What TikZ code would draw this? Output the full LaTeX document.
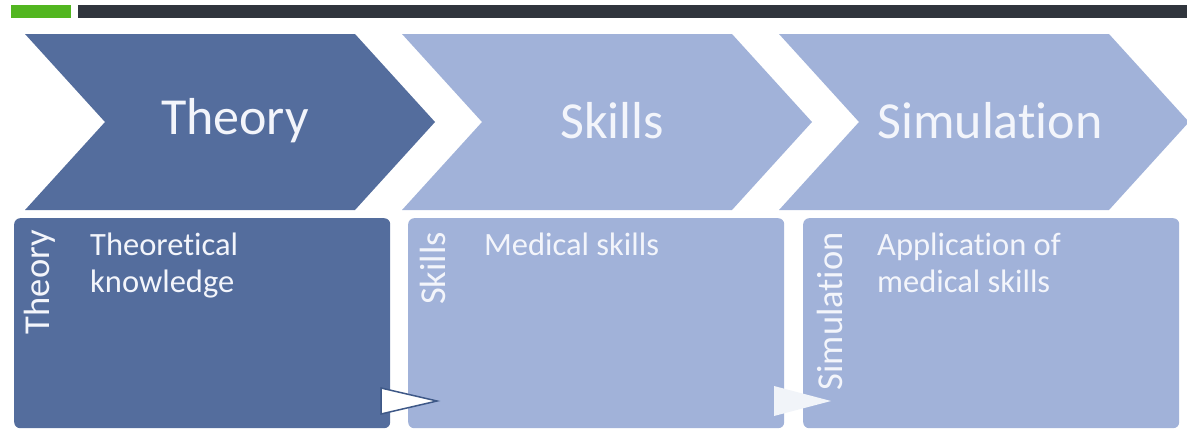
\documentclass[tikz,border=0pt]{standalone}
\usepackage{fontspec}
\setmainfont{Carlito}[Ligatures=NoCommon]
\definecolor{darkblue}{HTML}{546D9D}
\definecolor{lightblue}{HTML}{A1B2D9}
\definecolor{txt}{HTML}{F3F5FB}
\definecolor{barbg}{HTML}{30353D}
\definecolor{greenbar}{HTML}{52B620}
\definecolor{tridraw}{HTML}{3E5887}
\begin{document}
\begin{tikzpicture}[x=1pt,y=-1pt,
  chevtext/.style={text=txt,font=\fontsize{52}{60}\selectfont,inner sep=0pt},
  boxstyle/.style={rounded corners=6pt,inner sep=0pt,minimum width=376pt,minimum height=210pt},
  bodytext/.style={text=txt,font=\fontsize{32.5}{37}\selectfont,inner sep=0pt,anchor=base west},
  sidetext/.style={text=txt,font=\fontsize{36.5}{40}\selectfont,inner sep=0pt,rotate=90,anchor=base east}]
\useasboundingbox (0,0) rectangle (1187,429);
% top bars
\fill[greenbar] (11,5) rectangle (71,18);
\fill[barbg] (78,5) rectangle (1187,18);
% chevrons
\fill[darkblue] (25,34) -- (355,34) -- (435,122) -- (355,210) -- (25,210) -- (105,122) -- cycle;
\fill[lightblue] (402,34) -- (732,34) -- (812,122) -- (732,210) -- (402,210) -- (482,122) -- cycle;
\fill[lightblue] (779,34) -- (1109,34) -- (1189,122) -- (1109,210) -- (779,210) -- (859,122) -- cycle;
\node[chevtext] (c1) at (235,121) {Theory};
\node[chevtext] (c2) at (612,121) {Skills};
\node[chevtext] (c3) at (990,121) {Simulation};
% boxes
\node[boxstyle,fill=darkblue,anchor=north west] (b1) at (14,218) {};
\node[boxstyle,fill=lightblue,anchor=north west] (b2) at (408,218) {};
\node[boxstyle,fill=lightblue,anchor=north west] (b3) at (803,218) {};
% side labels
\node[sidetext] (s1) at (49,230) {Theory};
\node[sidetext] (s2) at (445,232) {Skills};
\node[sidetext] (s3) at (842,232) {Simulation};
% body text
\node[bodytext] (t1a) at (90,255) {Theoretical};
\node[bodytext] (t1b) at (90,292) {knowledge};
\node[bodytext] (t2a) at (484,255) {Medical skills};
\node[bodytext] (t3a) at (877,255) {Application of};
\node[bodytext] (t3b) at (877,292) {medical skills};
% triangles
\coordinate (tr1) at (437,401);
\coordinate (tr2) at (831,401);
\draw[tridraw,fill=white,line width=1.5pt,line join=miter] (381,388) -- (tr1) -- (381,414) -- cycle;
\fill[white!85!lightblue] (774,386) -- (tr2) -- (774,416) -- cycle;
\end{tikzpicture}
\end{document}
